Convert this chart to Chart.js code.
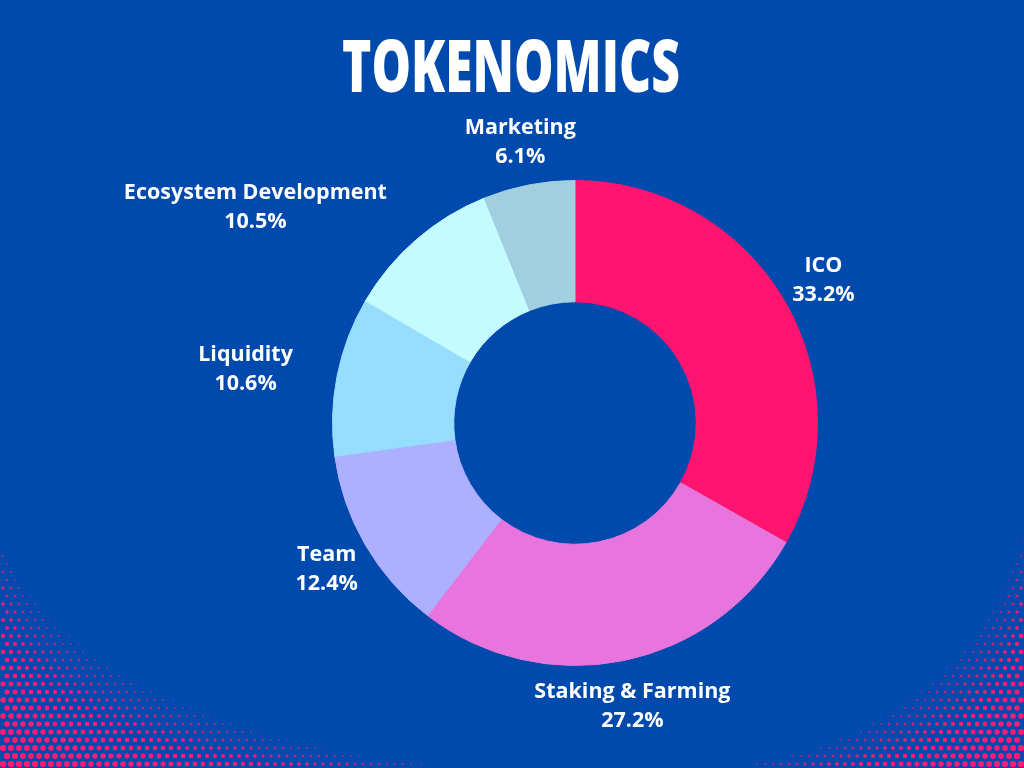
<!DOCTYPE html>
<html>
<head>
<meta charset="utf-8">
<script src="https://cdn.jsdelivr.net/npm/chart.js@4"></script>
<style>
  html, body { margin: 0; padding: 0; background: #0049AD; }
  #wrap { width: 1024px; height: 768px; position: relative; }
</style>
</head>
<body>
<div id="wrap"><canvas id="c" width="1024" height="768"></canvas></div>
<script>
const titleText = 'TOKENOMICS';
const categories = ['ICO', 'Staking & Farming', 'Team', 'Liquidity', 'Ecosystem Development', 'Marketing'];
const values = [33.2, 27.2, 12.4, 10.6, 10.5, 6.1];
const colors = ['#FF1470', '#E875DE', '#ADB0FF', '#97DDFE', '#C4FBFF', '#A2CFE0'];

const halftonePlugin = {
  id: 'halftone',
  beforeDraw(chart) {
    const ctx = chart.ctx;
    const W = chart.width, H = chart.height;
    ctx.save();
    ctx.fillStyle = '#0049AD';
    ctx.fillRect(0, 0, W, H);
    const corners = [
      { ox: 0, oy: H, sx: 1, rx: 500, ry: 250 },
      { ox: W, oy: H, sx: -1, rx: 320, ry: 260 }
    ];
    const s = 8;
    corners.forEach(c => {
      for (let j = 0; j * s < c.ry + 10; j++) {
        const dy = 4 + j * s;
        for (let i = 0; i * s < c.rx + 10; i++) {
          const dx = 3 + i * s + (j % 2) * (s / 2);
          const t = Math.pow(dx / c.rx, 0.6) + Math.pow(dy / c.ry, 0.6);
          if (t >= 1) continue;
          const r = 3.5 * Math.pow(1 - t, 0.35);
          if (r < 0.7) continue;
          ctx.globalAlpha = Math.min(1, 0.5 + (1 - t) * 2);
          ctx.fillStyle = '#FF1A72';
          ctx.beginPath();
          ctx.arc(c.ox + c.sx * dx, c.oy - dy, r, 0, Math.PI * 2);
          ctx.fill();
        }
      }
    });
    ctx.restore();
  }
};

const titlePlugin = {
  id: 'bigTitle',
  afterDraw(chart) {
    const ctx = chart.ctx;
    ctx.save();
    ctx.font = '800 73px "Open Sans", "DejaVu Sans", sans-serif';
    ctx.fillStyle = '#FFFFFF';
    ctx.textAlign = 'center';
    ctx.textBaseline = 'alphabetic';
    const w = ctx.measureText(titleText).width;
    const target = 338;
    ctx.translate(511, 92);
    ctx.scale(target / w, 1);
    ctx.fillText(titleText, 0, 0);
    ctx.restore();
  }
};

const labelPlugin = {
  id: 'outLabels',
  afterDatasetsDraw(chart) {
    const ctx = chart.ctx;
    const meta = chart.getDatasetMeta(0);
    ctx.save();
    ctx.font = 'bold 21.5px "Open Sans", sans-serif';
    ctx.fillStyle = '#FFFFFF';
    ctx.textBaseline = 'middle';
    const lh = 29;
    meta.data.forEach((arc, i) => {
      const p = arc.getProps(['x', 'y', 'startAngle', 'endAngle', 'outerRadius'], true);
      const mid = (p.startAngle + p.endAngle) / 2;
      const r = p.outerRadius + 45;
      const ax = p.x + Math.cos(mid) * r;
      const ay = p.y + Math.sin(mid) * r + 2;
      const lines = [categories[i], values[i].toFixed(1) + '%'];
      const w = Math.max(...lines.map(l => ctx.measureText(l).width));
      const y1 = ay - lh / 2 - 10, y2 = ay + lh / 2 + 10;
      let cx = ax;
      const x1 = cx - w / 2, x2 = cx + w / 2;
      const nx = Math.max(x1, Math.min(p.x, x2));
      const ny = Math.max(y1, Math.min(p.y, y2));
      if (Math.hypot(nx - p.x, ny - p.y) < p.outerRadius) {
        cx = Math.cos(mid) < 0 ? ax - w / 2 : ax + w / 2;
      }
      ctx.textAlign = 'center';
      lines.forEach((l, k) => ctx.fillText(l, cx, ay - lh / 2 + k * lh));
    });
    ctx.restore();
  }
};

new Chart(document.getElementById('c'), {
  type: 'doughnut',
  data: {
    labels: categories,
    datasets: [{
      data: values,
      backgroundColor: colors,
      borderColor: colors,
      borderWidth: 1,
      hoverOffset: 0
    }]
  },
  options: {
    responsive: false,
    animation: false,
    cutout: '50%',
    rotation: 0,
    layout: { padding: { left: 332, right: 206, top: 180, bottom: 102 } },
    plugins: {
      legend: { display: false },
      tooltip: { enabled: false },
      title: { display: false }
    }
  },
  plugins: [halftonePlugin, labelPlugin, titlePlugin]
});
</script>
</body>
</html>
